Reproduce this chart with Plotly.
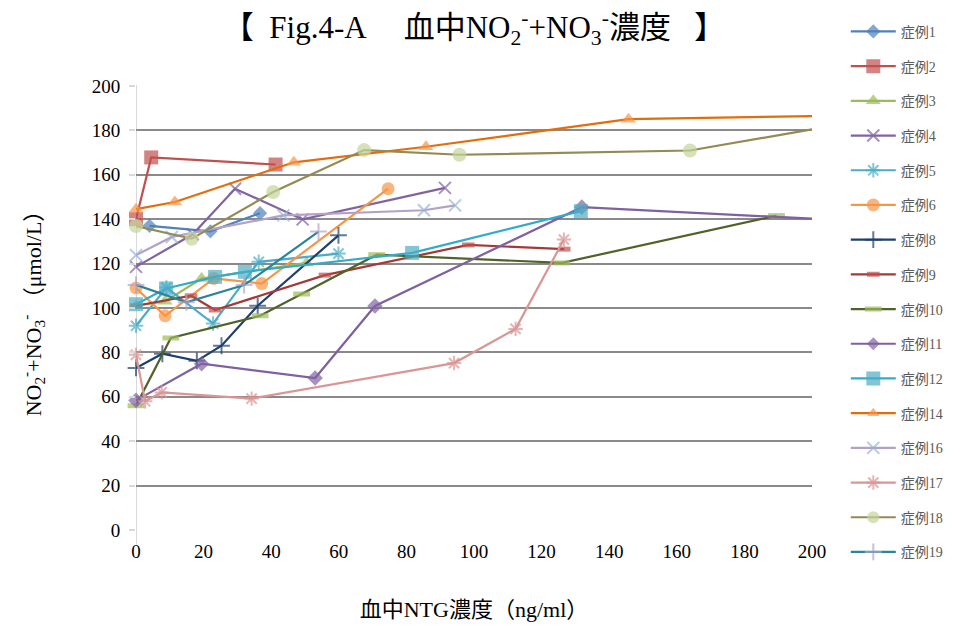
import plotly.graph_objects as go

FONT = "Liberation Serif, Noto Sans CJK JP, serif"

names = ["症例1", "症例2", "症例3", "症例4", "症例5", "症例6", "症例8", "症例9", "症例10",
         "症例11", "症例12", "症例14", "症例16", "症例17", "症例18", "症例19"]

x1 = [4, 22, 36.7];                 y1 = [137, 134.5, 142.7]
x2 = [0, 4.5, 41.3];                y2 = [140, 167.8, 164.6]
x3 = [0, 8.6, 19.4, 50.5];          y3 = [101, 103, 113.3, 120.3]
x4 = [0, 16.8, 29.3, 49.3, 91.4];   y4 = [118.5, 133.2, 153.7, 139.9, 154.1]
x5 = [0, 9, 22.8, 36.3, 59.9];      y5 = [92, 109.2, 93, 120.8, 124.5]
x6 = [0, 8.6, 23, 37.2, 74.6];      y6 = [109, 96.5, 113.3, 111, 153.7]
x8 = [0, 7.8, 18, 25.3, 36, 59.9];  y8 = [73, 79.4, 76.2, 83, 101, 132.7]
x9 = [0, 16.3, 23.4, 55.9, 98.3, 126.7]; y9 = [101, 105.5, 99.1, 114.8, 128.4, 126.5]
x10 = [0, 10.3, 36.7, 49, 71.2, 126, 189.5]; y10 = [56, 86.5, 96.5, 106.3, 124, 120.3, 141.6]
x11 = [0, 19.4, 53, 70.7, 131.9, 200]; y11 = [58.4, 74.9, 68.5, 100.9, 145.4, 140.2]
x12 = [0, 8.9, 23.4, 32.2, 81.7, 131.6]; y12 = [101.7, 108.8, 114, 116.3, 124.8, 143.6]
x14 = [0, 11.5, 46.7, 85.8, 145.7, 200]; y14 = [144.5, 147.7, 165.6, 172.6, 185, 186.4]
x16 = [0, 10.6, 43.6, 85.2, 94.4];  y16 = [123.8, 132, 141.7, 144, 146.2]
x17 = [0, 2.7, 7.6, 34.2, 94.1, 112.3, 126.6]; y17 = [78.9, 58, 62, 59.2, 75.2, 90.6, 130.8]
x18 = [0, 16.5, 40.6, 67.5, 95.7, 163.9, 200]; y18 = [136.9, 131.2, 152.2, 171.1, 169, 170.9, 180.4]
x19 = [0, 14.9, 32, 54];            y19 = [110.4, 102.6, 110.3, 134.4]

xs = [x1, x2, x3, x4, x5, x6, x8, x9, x10, x11, x12, x14, x16, x17, x18, x19]
ys = [y1, y2, y3, y4, y5, y6, y8, y9, y10, y11, y12, y14, y16, y17, y18, y19]

# whether the last point is only the line leaving the plot (no marker drawn)
edge_end = [False] * 9 + [True, False, True, False, False, True, False]

line_colors = ["#4F81BD", "#C0504D", "#9BBB59", "#8064A2", "#4BACC6", "#F79646",
               "#1F3F6E", "#A33A37", "#4F6228", "#7F60A0", "#31ACC8", "#E46C0A",
               "#B3A2C7", "#D99694", "#948A54", "#2B849A"]
marker_colors = ["#4F81BD", "#C0504D", "#9BBB59", "#8064A2", "#4BACC6", "#F79646",
                 "#1F3F6E", "#C0504D", "#9BBB59", "#8064A2", "#4BACC6", "#F79646",
                 "#95B3D7", "#D99694", "#C3D69B", "#B3A2C7"]
symbols = ["diamond", "square", "triangle-up", "x-thin-open", "asterisk-open", "circle",
           "cross-thin-open", "line-ew-open", "line-ew-open", "diamond", "square", "triangle-up",
           "x-thin-open", "asterisk-open", "circle", "cross-thin-open"]
sizes = [11, 14, 13, 12, 12, 13, 12, 9, 12, 12, 14, 13, 12, 12, 14, 12]

fig = go.Figure()
for i, name in enumerate(names):
    sym = symbols[i]
    open_sym = sym.endswith("-open")
    n = len(xs[i])
    msize = [sizes[i]] * n
    if edge_end[i]:
        msize[-1] = 0
    lw_marker = 2
    if sym == "line-ew-open":
        lw_marker = 5
    fig.add_trace(go.Scatter(
        x=xs[i], y=ys[i], name=name, mode="lines+markers",
        line=dict(color=line_colors[i], width=2.2),
        marker=dict(symbol=sym, size=msize, color=marker_colors[i],
                    line=dict(color=marker_colors[i], width=lw_marker if open_sym else 0)),
        legendgroup=name, cliponaxis=False,
    ))

fig.update_layout(
    width=964, height=633,
    paper_bgcolor="white", plot_bgcolor="white",
    margin=dict(l=136, r=152, t=85, b=102),
    font=dict(family=FONT, color="black", size=18),
    title=dict(
        text="【  Fig.4-A　 血中NO<sub>2</sub><sup>-</sup>+NO<sub>3</sub><sup>-</sup>濃度   】",
        x=0.5, xref="paper", xanchor="center", y=0.957, yanchor="middle",
        font=dict(family=FONT, size=31, color="black"),
    ),
    xaxis=dict(
        range=[0, 200], tickvals=[0, 20, 40, 60, 80, 100, 120, 140, 160, 180, 200],
        showgrid=False, zeroline=False, showline=False, ticks="",
        tickfont=dict(family=FONT, size=19), ticklabelstandoff=7,
        title=dict(text="血中NTG濃度（ng/ml）", font=dict(family=FONT, size=22), standoff=40),
    ),
    yaxis=dict(
        range=[-0.4, 200.4], tickvals=[0, 20, 40, 60, 80, 100, 120, 140, 160, 180, 200],
        showgrid=True, gridcolor="#8A8A8A", gridwidth=2.2,
        zeroline=False, showline=False,
        ticks="outside", ticklen=6, tickcolor="#D9D9D9", tickwidth=2,
        tickfont=dict(family=FONT, size=19), ticklabelstandoff=5,
        title=dict(text="NO<sub>2</sub><sup>-</sup>+NO<sub>3</sub><sup>-</sup> （μmol/L）",
                   font=dict(family=FONT, size=22), standoff=44),
    ),
    shapes=[dict(type="line", xref="x", yref="paper", x0=0, x1=0, y0=-0.03, y1=1,
                 line=dict(color="#D9D9D9", width=2), layer="below")],
    legend=dict(
        x=1.05, xanchor="left", y=1.155, yanchor="top",
        font=dict(family=FONT, size=14, color="#595959"),
        tracegroupgap=13.5, bgcolor="rgba(0,0,0,0)", itemwidth=45, maxheight=633,
    ),
    showlegend=True,
)

fig.write_html("out.html")
